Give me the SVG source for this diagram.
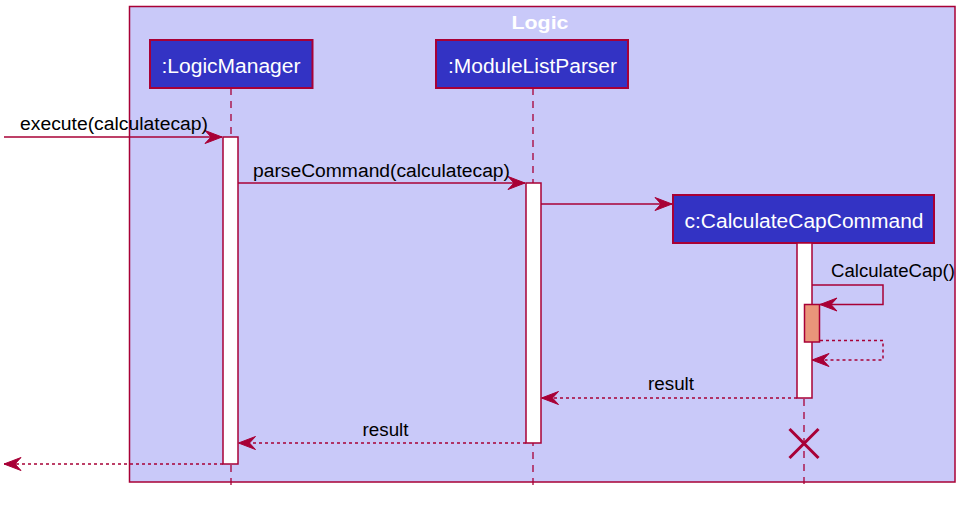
<svg xmlns="http://www.w3.org/2000/svg" width="973" height="508" viewBox="0 0 973 508">
<style>
.frame{fill:#C9C9F9;stroke:#A80036;stroke-width:1.5}
.title{font-family:"Liberation Sans",Arial,sans-serif;font-weight:bold;font-size:19px;fill:#FFFFFF}
.part{fill:#3333C4;stroke:#A80036;stroke-width:2}
.ptext{font-family:"Liberation Sans",Arial,sans-serif;font-size:20px;fill:#FFFFFF}
.life{stroke:#A80036;stroke-width:1.3;stroke-dasharray:7,6;fill:none}
.act{fill:#FFFFFF;stroke:#A80036;stroke-width:1.5}
.act2{fill:#E9967A;stroke:#A80036;stroke-width:1.5}
.msg{stroke:#A80036;stroke-width:1.5;fill:none;marker-end:url(#arr)}
.ret{stroke:#A80036;stroke-width:1.5;fill:none;stroke-dasharray:3,3;marker-end:url(#arr)}
.mtext{font-family:"Liberation Sans",Arial,sans-serif;font-size:18px;fill:#000000}
.destroy{stroke:#A80036;stroke-width:3}
</style>
<defs>
<marker id="arr" markerUnits="userSpaceOnUse" markerWidth="20" markerHeight="16" refX="17" refY="7" orient="auto" overflow="visible">
<path d="M0,0.5 L17,7 L0,13.5 L6,7 Z" fill="#A80036" stroke="#A80036" stroke-width="1" stroke-linejoin="miter"/>
</marker>
</defs>
<g id="logic-frame">
<rect class="frame" x="129.5" y="6.5" width="825.5" height="475.5"/>
<text class="title" x="540" y="29" text-anchor="middle" textLength="57" lengthAdjust="spacingAndGlyphs">Logic</text>
</g>
<g id="lifelines">
<line class="life" x1="231" y1="88" x2="231" y2="488"/>
<line class="life" x1="533" y1="88" x2="533" y2="488"/>
<line class="life" x1="804" y1="243" x2="804" y2="488"/>
</g>
<g id="logicmanager">
<rect class="part" x="150" y="40" width="162.5" height="48"/>
<text class="ptext" x="231" y="72.5" text-anchor="middle" textLength="139" lengthAdjust="spacingAndGlyphs">:LogicManager</text>
<rect class="act" x="223" y="137" width="15" height="327"/>
</g>
<g id="modulelistparser">
<rect class="part" x="436" y="40" width="192" height="48"/>
<text class="ptext" x="532.5" y="72.5" text-anchor="middle" textLength="169" lengthAdjust="spacingAndGlyphs">:ModuleListParser</text>
<rect class="act" x="526" y="183" width="15" height="260"/>
</g>
<g id="calculatecapcommand">
<rect class="part" x="673" y="195" width="261" height="48"/>
<text class="ptext" x="804" y="227.5" text-anchor="middle" textLength="239" lengthAdjust="spacingAndGlyphs">c:CalculateCapCommand</text>
<rect class="act" x="797" y="243" width="15" height="155"/>
<rect class="act2" x="804.5" y="304.5" width="15" height="37.5"/>
<line class="destroy" x1="789.5" y1="429" x2="818.5" y2="458"/>
<line class="destroy" x1="818.5" y1="429" x2="789.5" y2="458"/>
</g>
<g id="connectors">
<line class="msg" x1="4" y1="137" x2="222" y2="137"/>
<text class="mtext" x="20" y="130" textLength="188" lengthAdjust="spacingAndGlyphs">execute(calculatecap)</text>
<line class="msg" x1="238" y1="183" x2="525" y2="183"/>
<text class="mtext" x="253" y="176.5" textLength="257" lengthAdjust="spacingAndGlyphs">parseCommand(calculatecap)</text>
<line class="msg" x1="541" y1="204" x2="672" y2="204"/>
<polyline class="msg" points="812,285 883,285 883,304.5 820,304.5"/>
<text class="mtext" x="831" y="277" textLength="124" lengthAdjust="spacingAndGlyphs">CalculateCap()</text>
<polyline class="ret" points="820,340.5 883,340.5 883,360 812,360"/>
<line class="ret" x1="797" y1="398" x2="541.5" y2="398"/>
<text class="mtext" x="648" y="390" textLength="46" lengthAdjust="spacingAndGlyphs">result</text>
<line class="ret" x1="526" y1="443" x2="238.5" y2="443"/>
<text class="mtext" x="362.5" y="436" textLength="46" lengthAdjust="spacingAndGlyphs">result</text>
<line class="ret" x1="223" y1="464" x2="4" y2="464"/>
</g>
</svg>
